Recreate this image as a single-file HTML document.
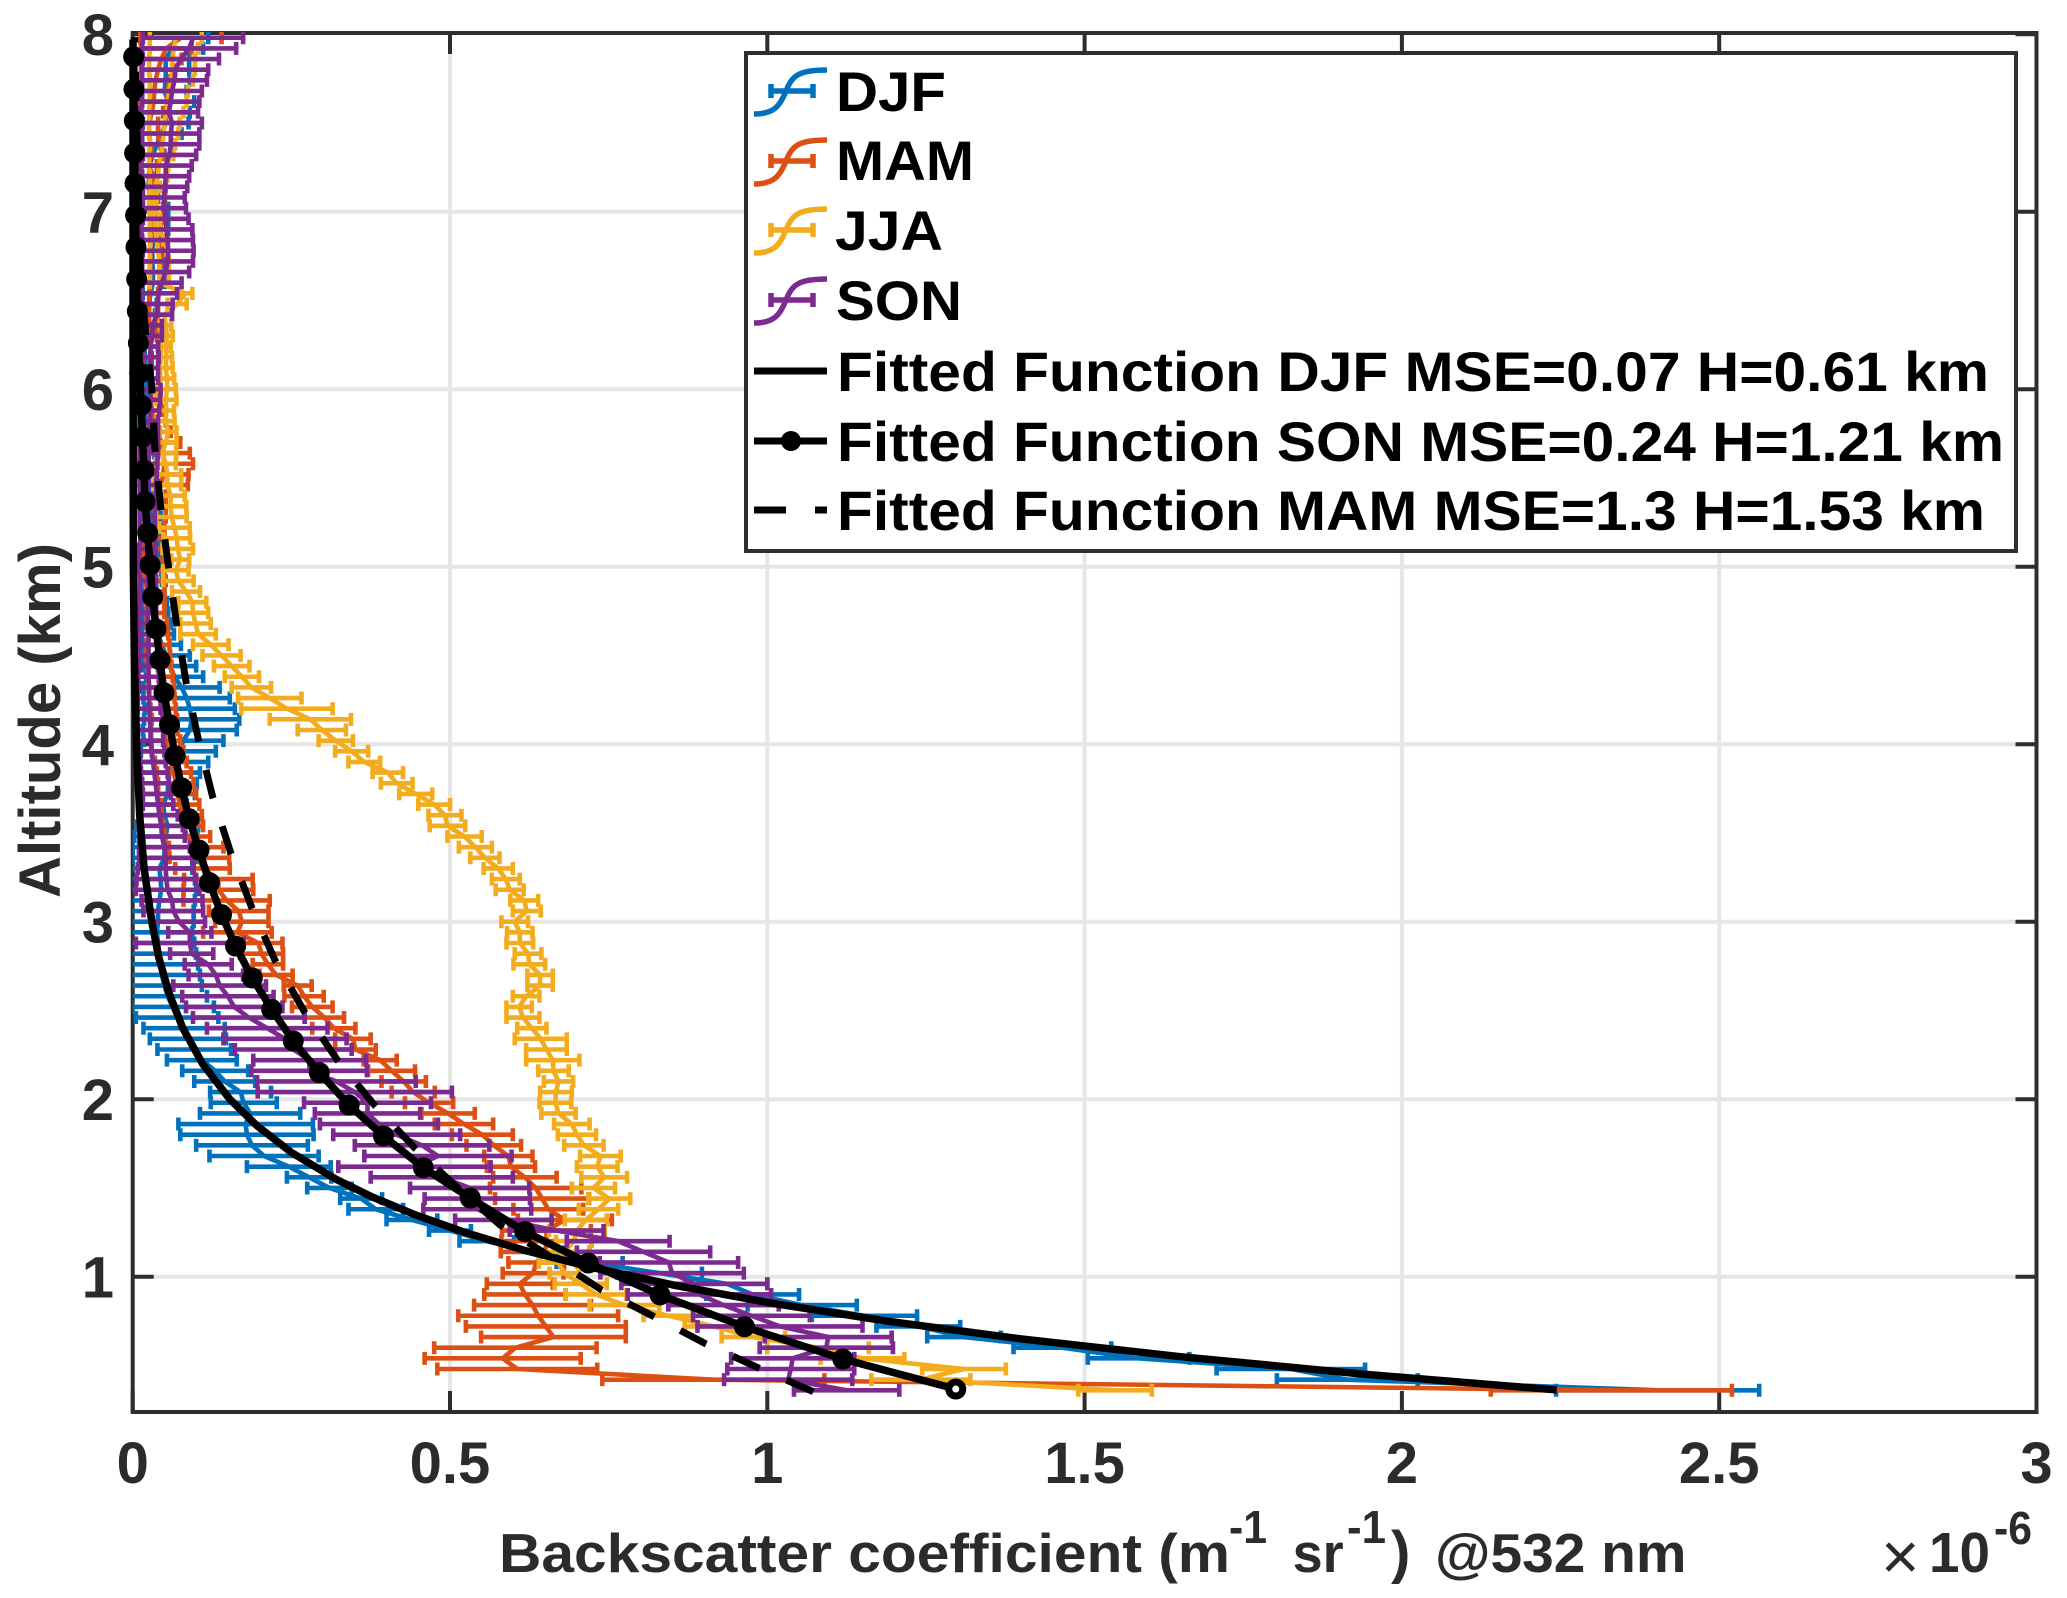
<!DOCTYPE html>
<html lang="en">
<head>
<meta charset="utf-8">
<title>Backscatter coefficient profiles</title>
<style>
html,body{margin:0;padding:0;background:#fff;}
svg{display:block;}
text{font-family:"Liberation Sans",Arial,sans-serif;font-weight:bold;}
</style>
</head>
<body>
<svg id="chart" xmlns="http://www.w3.org/2000/svg" width="2067" height="1598" viewBox="0 0 2067 1598">
<defs><clipPath id="plot-clip"><rect x="132.7" y="32" width="1903.8" height="1380"/></clipPath></defs>
<rect x="0" y="0" width="2067" height="1598" fill="#fff"/>
<g id="grid-layer"></g>
<g id="axes-layer"></g>
<g id="series-layer" clip-path="url(#plot-clip)"></g>
<g id="fit-layer"></g>

<text x="499" y="1572" font-size="55" fill="#2b2b2b" textLength="731" lengthAdjust="spacingAndGlyphs">Backscatter coefficient (m</text>
<text x="1229" y="1543" font-size="46" fill="#2b2b2b" textLength="38" lengthAdjust="spacingAndGlyphs">-1</text>
<text x="1292.6" y="1572" font-size="55" fill="#2b2b2b" textLength="51" lengthAdjust="spacingAndGlyphs">sr</text>
<text x="1347" y="1543" font-size="46" fill="#2b2b2b" textLength="39" lengthAdjust="spacingAndGlyphs">-1</text>
<text x="1391" y="1572" font-size="58" fill="#2b2b2b">)</text>
<text x="1435" y="1572" font-size="55" fill="#2b2b2b" textLength="251.5" lengthAdjust="spacingAndGlyphs">@532 nm</text>
<text x="1881" y="1579" font-size="66" style="font-weight:normal" fill="#2b2b2b">×</text>
<text x="1929" y="1572" font-size="57" fill="#2b2b2b" textLength="61" lengthAdjust="spacingAndGlyphs">10</text>
<text x="1994" y="1544" font-size="46" fill="#2b2b2b" textLength="38" lengthAdjust="spacingAndGlyphs">-6</text>
<text transform="translate(60 898) rotate(-90)" x="0" y="0" font-size="58" fill="#2b2b2b" textLength="355" lengthAdjust="spacingAndGlyphs">Altitude (km)</text>

<g>
<rect x="746" y="53" width="1270" height="498" fill="#fff" stroke="#2e2e2e" stroke-width="4"/>
<g fill="none" stroke="#0072bd" stroke-width="5.5">
<path d="M754 114C774 114 780 106 786 91C792 76 798 70 827 70M771 91H813M771 84V98M813 84V98"/>
<text x="836" y="111" font-size="56" fill="#000" stroke="none" textLength="110" lengthAdjust="spacingAndGlyphs">DJF</text>
</g>
<g fill="none" stroke="#dd5014" stroke-width="5.5">
<path d="M754 184C774 184 780 176 786 161C792 146 798 140 827 140M771 161H813M771 154V168M813 154V168"/>
<text x="836" y="180" font-size="56" fill="#000" stroke="none" textLength="138" lengthAdjust="spacingAndGlyphs">MAM</text>
</g>
<g fill="none" stroke="#f2ac1e" stroke-width="5.5">
<path d="M754 253C774 253 780 245 786 230C792 215 798 209 827 209M771 230H813M771 223V237M813 223V237"/>
<text x="835" y="250" font-size="56" fill="#000" stroke="none" textLength="108" lengthAdjust="spacingAndGlyphs">JJA</text>
</g>
<g fill="none" stroke="#7c2a90" stroke-width="5.5">
<path d="M754 323C774 323 780 315 786 300C792 285 798 279 827 279M771 300H813M771 293V307M813 293V307"/>
<text x="836" y="320" font-size="56" fill="#000" stroke="none" textLength="126" lengthAdjust="spacingAndGlyphs">SON</text>
</g>
<g>
<line x1="754" x2="827" y1="371" y2="371" stroke="#000" stroke-width="7"/>
<text x="837" y="391" font-size="56" fill="#000" textLength="1152" lengthAdjust="spacingAndGlyphs">Fitted Function DJF MSE=0.07 H=0.61 km</text>
</g>
<g>
<line x1="754" x2="827" y1="441" y2="441" stroke="#000" stroke-width="7"/>
<circle cx="791" cy="441" r="10" fill="#000"/>
<text x="837" y="461" font-size="56" fill="#000" textLength="1167" lengthAdjust="spacingAndGlyphs">Fitted Function SON MSE=0.24 H=1.21 km</text>
</g>
<g>
<path d="M754 510H786M815 510H827" stroke="#000" stroke-width="7" fill="none"/>
<text x="837" y="530" font-size="56" fill="#000" textLength="1148" lengthAdjust="spacingAndGlyphs">Fitted Function MAM MSE=1.3 H=1.53 km</text>
</g>
</g>
</svg>
<script>
// Tick values and labels
const xTicks = [0, 0.5, 1, 1.5, 2, 2.5, 3];
const xTickLabels = ["0", "0.5", "1", "1.5", "2", "2.5", "3"];
const yTicks = [1, 2, 3, 4, 5, 6, 7, 8];
const yTickLabels = ["1", "2", "3", "4", "5", "6", "7", "8"];

// Altitude levels (km) shared by the seasonal profiles
const altitudes = [
0.36,0.42,0.48,0.54,0.60,0.66,0.72,0.78,0.84,0.90,
0.96,1.02,1.08,1.14,1.20,1.26,1.32,1.38,1.44,1.50,
1.56,1.62,1.68,1.74,1.80,1.86,1.92,1.98,2.04,2.10,
2.16,2.22,2.28,2.34,2.40,2.46,2.52,2.58,2.64,2.70,
2.76,2.82,2.88,2.94,3.00,3.06,3.12,3.18,3.24,3.30,
3.36,3.42,3.48,3.54,3.60,3.66,3.72,3.78,3.84,3.90,
3.96,4.02,4.08,4.14,4.20,4.26,4.32,4.38,4.44,4.50,
4.56,4.62,4.68,4.74,4.80,4.86,4.92,4.98,5.04,5.10,
5.16,5.22,5.28,5.34,5.40,5.46,5.52,5.58,5.64,5.70,
5.76,5.82,5.88,5.94,6.00,6.06,6.12,6.18,6.24,6.30,
6.36,6.42,6.48,6.54,6.60,6.66,6.72,6.78,6.84,6.90,
6.96,7.02,7.08,7.14,7.20,7.26,7.32,7.38,7.44,7.50,
7.56,7.62,7.68,7.74,7.80,7.86,7.92,7.98];

// DJF backscatter (x10^-6) and error half-widths
const djfMean = [
2.403,1.914,1.825,1.585,1.465,1.31,1.238,1.153,1.055,.977,
.936,.83,.72,.63,.558,.5,.44,.383,.36,.31,
.278,.246,.207,.188,.18,.178,.185,.175,.17,.145,
.13,.109,.097,.087,.081,.07,.063,.055,.05,.046,
.044,.042,.04,.038,.04,.04,.042,.045,.044,.042,
.05,.05,.052,.055,.05,.048,.055,.056,.058,.065,
.072,.08,.09,.093,.09,.085,.077,.066,.058,.052,
.046,.04,.038,.036,.034,.032,.03,.03,.028,.028,
.028,.03,.03,.028,.03,.03,.026,.024,.022,.025,
.022,.02,.02,.022,.022,.02,.02,.02,.018,.018,
.025,.025,.026,.028,.032,.032,.031,.031,.032,.035,
.035,.035,.028,.025,.026,.026,.032,.038,.046,.052,
.052,.056,.05,.052,.052,.052,.063,.067];
const djfErr = [
.16,.111,.117,.08,.077,.058,.066,.083,.086,.073,
.064,.067,.052,.05,.043,.033,.04,.043,.033,.035,
.035,.066,.086,.088,.105,.106,.079,.052,.048,.048,
.052,.055,.058,.06,.064,.065,.065,.062,.059,.06,
.059,.058,.057,.056,.056,.056,.056,.055,.054,.052,
.05,.05,.05,.048,.04,.037,.043,.045,.048,.054,
.059,.063,.074,.075,.071,.068,.06,.045,.042,.038,
.03,.025,.022,.02,.02,.018,.016,.015,.015,.014,
.014,.014,.014,.012,.012,.012,.012,.012,.012,.012,
.012,.01,.01,.01,.01,.01,.01,.01,.01,.01,
.01,.01,.012,.012,.018,.018,.017,.017,.018,.021,
.021,.021,.012,.01,.012,.012,.018,.023,.031,.036,
.038,.041,.035,.038,.037,.037,.048,.052];

// MAM backscatter and error half-widths
const mamMean = [
2.33,.915,.606,.583,.603,.663,.651,.639,.63,.618,
.61,.631,.636,.65,.652,.652,.681,.655,.645,.635,
.618,.596,.592,.569,.551,.522,.497,.467,.442,.427,
.408,.39,.351,.347,.317,.302,.283,.27,.26,.226,
.213,.203,.198,.165,.172,.167,.148,.135,.135,.11,
.105,.1,.086,.08,.077,.075,.07,.068,.065,.06,
.055,.052,.05,.05,.048,.046,.045,.044,.042,.04,
.04,.04,.038,.036,.036,.036,.036,.034,.034,.034,
.034,.034,.036,.036,.034,.045,.048,.05,.048,.045,
.04,.034,.03,.03,.028,.028,.028,.028,.028,.026,
.026,.026,.026,.026,.027,.027,.028,.028,.028,.028,
.03,.03,.032,.032,.033,.025,.03,.028,.026,.026,
.03,.033,.034,.036,.04,.045,.053,.076];
const mamErr = [
.19,.175,.126,.123,.128,.114,.126,.126,.092,.064,
.052,.048,.044,.07,.071,.07,.074,.055,.074,.072,
.05,.038,.038,.043,.048,.046,.042,.038,.034,.035,
.037,.026,.032,.028,.034,.031,.032,.031,.022,.026,
.024,.034,.038,.054,.042,.047,.068,.055,.054,.043,
.047,.043,.036,.031,.032,.03,.03,.028,.027,.025,
.025,.023,.021,.02,.02,.02,.02,.019,.019,.019,
.018,.016,.016,.014,.014,.014,.016,.016,.016,.016,
.016,.016,.016,.016,.018,.042,.04,.045,.042,.03,
.02,.018,.016,.014,.014,.014,.014,.012,.012,.012,
.014,.014,.014,.014,.015,.015,.016,.016,.016,.016,
.018,.018,.019,.02,.021,.013,.018,.016,.014,.014,
.018,.021,.022,.023,.027,.032,.04,.064];

// JJA backscatter and error half-widths
const jjaMean = [
1.548,1.242,1.31,1.15,1.08,.978,.915,.844,.775,.73,
.706,.68,.67,.68,.695,.70,.714,.734,.751,.726,
.743,.732,.737,.711,.70,.692,.671,.666,.667,.671,
.663,.662,.652,.643,.629,.615,.609,.62,.642,.642,
.625,.623,.61,.61,.602,.621,.617,.594,.588,.576,
.555,.54,.523,.496,.492,.475,.446,.416,.402,.365,
.345,.32,.298,.28,.243,.216,.187,.172,.156,.14,
.123,.103,.099,.095,.094,.084,.072,.068,.075,.071,
.0695,.066,.061,.0595,.06,.0545,.0545,.052,.0465,.052,
.056,.052,.053,.052,.054,.0545,.052,.053,.052,.054,
.052,.05,.07,.083,.042,.042,.042,.04,.038,.035,
.035,.032,.032,.035,.04,.041,.045,.047,.049,.05,
.053,.056,.057,.061,.062,.062,.065,.068];
const jjaErr = [
.058,.078,.066,.066,.08,.05,.045,.039,.055,.048,
.041,.023,.03,.04,.028,.044,.033,.031,.033,.034,
.036,.032,.032,.031,.03,.028,.027,.025,.025,.023,
.024,.042,.032,.041,.023,.026,.02,.021,.02,.02,
.025,.021,.021,.02,.021,.022,.022,.022,.022,.023,
.023,.026,.027,.028,.026,.025,.026,.025,.024,.025,
.026,.027,.038,.064,.072,.05,.031,.027,.028,.03,
.028,.028,.024,.024,.022,.022,.024,.02,.014,.024,
.021,.024,.024,.025,.022,.022,.022,.016,.022,.017,
.013,.014,.012,.017,.014,.011,.011,.009,.008,.009,
.009,.012,.015,.011,.015,.015,.015,.013,.01,.008,
.008,.006,.006,.008,.013,.015,.019,.02,.023,.024,
.027,.029,.03,.034,.036,.036,.038,.041];

// SON backscatter and error half-widths
const sonMean = [
1.125,1.033,1.037,1.04,1.093,1.096,1.02,.975,.931,.893,
.885,.85,.845,.805,.765,.668,.584,.543,.543,.531,
.487,.444,.481,.456,.416,.388,.37,.37,.35,.321,
.278,.279,.253,.24,.212,.183,.16,.15,.137,.131,
.119,.093,.09,.09,.073,.064,.062,.055,.053,.052,
.052,.05,.046,.045,.042,.04,.038,.036,.034,.032,
.03,.028,.028,.027,.026,.026,.026,.025,.025,.025,
.025,.025,.024,.024,.024,.024,.024,.023,.023,.023,
.024,.023,.023,.023,.024,.024,.025,.025,.026,.026,
.027,.027,.028,.028,.028,.027,.027,.028,.028,.031,
.031,.039,.039,.041,.046,.052,.055,.056,.055,.053,
.052,.05,.049,.051,.052,.052,.058,.06,.06,.062,
.057,.06,.062,.066,.067,.076,.089,.095];
const sonErr = [
.083,.101,.10,.097,.105,.10,.13,.092,.087,.113,
.115,.113,.109,.105,.081,.074,.076,.085,.083,.094,
.112,.12,.116,.106,.10,.093,.083,.10,.153,.125,
.091,.089,.092,.097,.095,.088,.076,.072,.073,.043,
.037,.034,.085,.034,.041,.047,.048,.05,.047,.044,
.042,.04,.036,.034,.029,.024,.022,.021,.021,.02,
.02,.02,.02,.02,.018,.018,.016,.016,.015,.015,
.014,.014,.014,.013,.013,.013,.013,.013,.013,.013,
.012,.012,.012,.012,.013,.013,.013,.014,.014,.014,
.013,.013,.014,.015,.016,.013,.013,.013,.012,.015,
.015,.023,.024,.029,.031,.037,.04,.04,.04,.041,
.036,.034,.033,.035,.037,.041,.042,.045,.045,.047,
.046,.045,.047,.051,.052,.06,.074,.079];

// Fitted DJF curve
const fitDjfAlt = [.362,.45,.55,.65,.75,.85,.95,1.05,1.15,1.25,1.35,1.45,1.55,1.7,1.85,2.0,2.2,2.4,2.6,2.8,3.0,3.3,3.6,4.0,4.5,5.0,6.5,7.97];
const fitDjfVal = [2.244,1.943,1.649,1.399,1.188,1.008,.856,.726,.616,.523,.444,.377,.32,.25,.196,.153,.11,.079,.057,.041,.03,.018,.011,.006,.0025,.001,.0005,.0005];

// Fitted SON curve with marker positions
const fitSonAlt = [.367,.536,.718,.897,1.077,1.254,1.443,1.614,1.793,1.967,2.15,2.328,2.506,2.683,2.863,3.04,3.22,3.404,3.58,3.755,3.935,4.11,4.29,4.475,4.65,4.83,5.01,5.19,5.366,5.544,5.73,5.91,6.09,6.26,6.44,6.62,6.80,6.98,7.16,7.33,7.513,7.69,7.873];
const fitSonVal = [1.297,1.119,.964,.831,.718,.618,.532,.458,.395,.341,.294,.253,.219,.1885,.162,.14,.121,.1045,.089,.077,.0667,.058,.0493,.043,.0367,.0315,.0273,.0236,.0194,.0178,.0155,.0135,.011,.009,.0073,.0063,.0052,.0045,.0037,.003,.0026,.002,.0015];

// Fitted MAM curve
const fitMamAlt = [.352,.484,.621,.775,.925,1.111,1.291,1.508,1.723,1.967,2.221,2.493,2.784,3.085,3.394,3.704,4.028,4.352,4.681,5.009,5.338,5.668,6.014,6.33,6.66,7.984];
const fitMamVal = [1.0725,.9874,.9034,.8215,.739,.659,.579,.51,.445,.381,.3225,.2705,.224,.187,.154,.126,.1034,.084,.069,.056,.044,.035,.03,.02,.012,.003];

const SVG_NS = "http://www.w3.org/2000/svg";
function xAxis(v) { return 132.7 + v * 634.6; }
function yAxis(a) { return 1276.7 - (a - 1) * 177.5; }
function node(tag, parent, attrs) {
  const el = document.createElementNS(SVG_NS, tag);
  for (const k in attrs) el.setAttribute(k, attrs[k]);
  parent.appendChild(el);
  return el;
}

const gridLayer = document.getElementById("grid-layer");
const axesLayer = document.getElementById("axes-layer");
const seriesLayer = document.getElementById("series-layer");
const fitLayer = document.getElementById("fit-layer");
const TOP = 33, BOTTOM = 1412, LEFT = 132.7, RIGHT = 2036.5;

xTicks.forEach(function (t, i) {
  const x = xAxis(t);
  if (t > 0 && t < 3) {
    const g = node("line", gridLayer, {x1: x, x2: x, y1: TOP, y2: BOTTOM, stroke: "#e6e6e6", "stroke-width": 4});
    
    
  }
  const b = node("line", axesLayer, {x1: x, x2: x, y1: BOTTOM, y2: BOTTOM - 21, stroke: "#2e2e2e", "stroke-width": 4});
  
  
  const u = node("line", axesLayer, {x1: x, x2: x, y1: TOP, y2: TOP + 21, stroke: "#2e2e2e", "stroke-width": 4});
  
  
  const l = node("text", axesLayer, {x: x, y: 1483, "font-size": 58, fill: "#2b2b2b", "text-anchor": "middle"});
  
  
  l.textContent = xTickLabels[i];
});

yTicks.forEach(function (t, i) {
  const y = yAxis(t);
  if (t < 8) {
    const g = node("line", gridLayer, {x1: LEFT, x2: RIGHT, y1: y, y2: y, stroke: "#e6e6e6", "stroke-width": 4});
    
    
  }
  const a = node("line", axesLayer, {x1: LEFT, x2: LEFT + 21, y1: y, y2: y, stroke: "#2e2e2e", "stroke-width": 4});
  
  
  const c = node("line", axesLayer, {x1: RIGHT, x2: RIGHT - 21, y1: y, y2: y, stroke: "#2e2e2e", "stroke-width": 4});
  
  
  const l = node("text", axesLayer, {x: 114, y: y + 21, "font-size": 58, fill: "#2b2b2b", "text-anchor": "end"});
  
  
  l.textContent = yTickLabels[i];
});

const frame = node("rect", axesLayer, {x: LEFT, y: TOP, width: RIGHT - LEFT, height: BOTTOM - TOP, fill: "none", stroke: "#2e2e2e", "stroke-width": 4});



function drawSeries(name, means, errs, color) {
  const g = node("g", seriesLayer, {stroke: color, fill: "none", "stroke-width": 4.6});
  
  
  altitudes.forEach(function (a, i) {
    const y = yAxis(a), l = xAxis(means[i] - errs[i]), r = xAxis(means[i] + errs[i]);
    const bar = node("path", g, {d: "M" + l + " " + y + "H" + r + "M" + l + " " + (y - 6.5) + "V" + (y + 6.5) + "M" + r + " " + (y - 6.5) + "V" + (y + 6.5)});
    
    
  });
  const pts = altitudes.map(function (a, i) { return xAxis(means[i]) + "," + yAxis(a); }).join(" ");
  const line = node("polyline", g, {points: pts, "stroke-linejoin": "round"});
  
  
}
drawSeries("djf", djfMean, djfErr, "#0072bd");
drawSeries("mam", mamMean, mamErr, "#dd5014");
drawSeries("jja", jjaMean, jjaErr, "#f2ac1e");
drawSeries("son", sonMean, sonErr, "#7c2a90");

function curvePoints(alts, vals) {
  return alts.map(function (a, i) { return xAxis(vals[i]) + "," + yAxis(a); }).join(" ");
}
const fitDjf = node("polyline", fitLayer, {points: curvePoints(fitDjfAlt, fitDjfVal), fill: "none", stroke: "#000", "stroke-width": 7.5, "stroke-linejoin": "round"});


const fitSon = node("polyline", fitLayer, {points: curvePoints(fitSonAlt, fitSonVal), fill: "none", stroke: "#000", "stroke-width": 7.5, "stroke-linejoin": "round"});


fitSonAlt.forEach(function (a, i) {
  const d = node("circle", fitLayer, {cx: xAxis(fitSonVal[i]), cy: yAxis(a), r: 10.5, fill: "#000"});
  
  
  if (i === 0) {
    const h = node("circle", fitLayer, {cx: xAxis(fitSonVal[i]), cy: yAxis(a), r: 3.5, fill: "#fff"});
    
    
  }
});
const fitMam = node("polyline", fitLayer, {points: curvePoints(fitMamAlt, fitMamVal), fill: "none", stroke: "#000", "stroke-width": 7, "stroke-dasharray": "29.3 29.3"});


</script>
</body>
</html>
